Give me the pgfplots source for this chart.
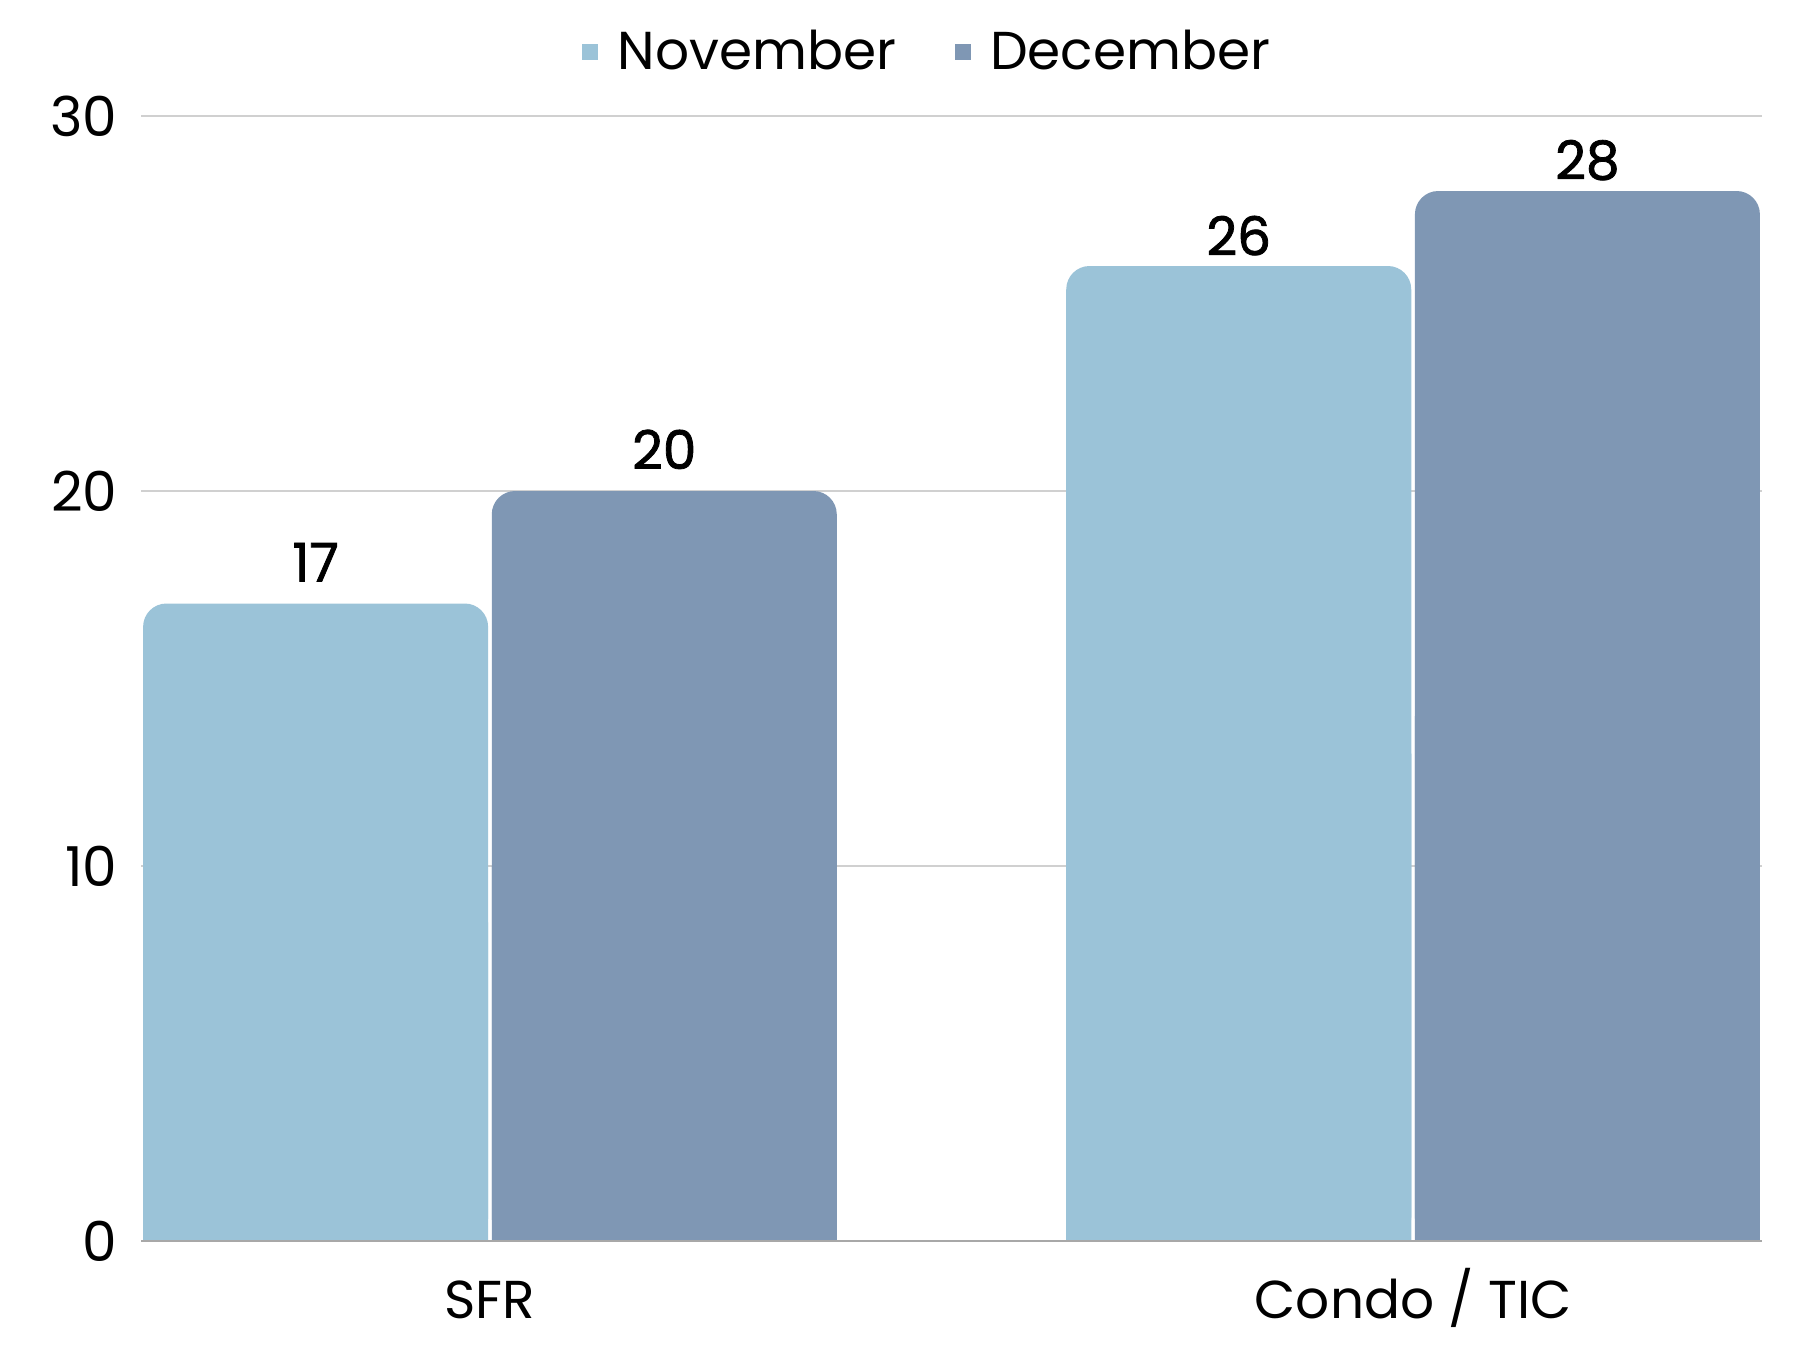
\documentclass[border=0pt]{standalone}
\usepackage{fontspec}
\setmainfont{Poppins}
\newfontfamily\labfont[FakeBold=1.5]{Poppins}
\usepackage{pgfplots}
\pgfplotsset{compat=1.18}
\usepackage{pgfplotstable}
\definecolor{nov}{HTML}{9BC3D8}
\definecolor{dec}{HTML}{7F97B4}
\definecolor{gridc}{HTML}{D0D0D0}
\definecolor{basec}{HTML}{A8A8A8}
\pgfplotstableread{
x y
0 17
1 26
}\novdata
\pgfplotstableread{
x y
0 20
1 28
}\decdata
\begin{document}
\begin{tikzpicture}
\useasboundingbox (-42.3pt,-32.7pt) rectangle (497.7pt,372.3pt);
\begin{axis}[
  at={(0pt,0pt)}, anchor=south west,
  scale only axis, width=486.3pt, height=337.5pt,
  xmin=-0.378, xmax=1.378, ymin=0, ymax=30,
  axis line style={draw=none},
  ybar, bar width=103.5pt,
  ytick={0,10,20,30},
  xtick={0,1}, xticklabels={SFR, Condo / TIC},
  major tick length=0pt,
  ymajorgrids, grid style={gridc, line width=0.6pt},
  /pgf/number format/assume math mode=true,
  yticklabel style={font=\fontsize{16.5}{19}\selectfont, anchor=east, inner sep=0pt, xshift=-6.9pt},
  xticklabel style={font=\fontsize{16}{19}\selectfont, anchor=base, inner sep=0pt, yshift=-23.1pt},
  visualization depends on={\thisrow{x}\as\xv},
  nodes near coords style={font=\labfont\fontsize{16}{19}\selectfont, anchor=south, inner sep=0pt, yshift={6.4pt-3.4pt*\xv}, text=black},
  legend style={at={(rel axis cs:0.4865,1.0567)}, anchor=center, draw=none, fill=none,
    legend columns=2, font=\fontsize{16}{19}\selectfont,
    /tikz/every even column/.append style={column sep=15.6pt},
    /tikz/every odd column/.append style={column sep=3.8pt}},
  legend image code/.code={\fill[#1, sharp corners] (0pt,-2.4pt) rectangle (4.8pt,2.4pt);},
  clip=false,
]
\addplot[fill=nov, draw=none, bar shift=-52.3pt, rounded corners=7pt, nodes near coords] table[x=x,y=y] {\novdata};
\addlegendentry{November}
\addplot[fill=dec, draw=none, bar shift=52.3pt, rounded corners=7pt, nodes near coords] table[x=x,y=y] {\decdata};
\addlegendentry{December}
\addplot[fill=nov, draw=none, bar shift=-52.3pt, forget plot] table[x=x,y expr=\thisrow{y}/2] {\novdata};
\addplot[fill=dec, draw=none, bar shift=52.3pt, forget plot] table[x=x,y expr=\thisrow{y}/2] {\decdata};
\draw[basec, line width=0.8pt] (rel axis cs:0,0) -- (rel axis cs:1,0);
\end{axis}
\end{tikzpicture}
\end{document}
